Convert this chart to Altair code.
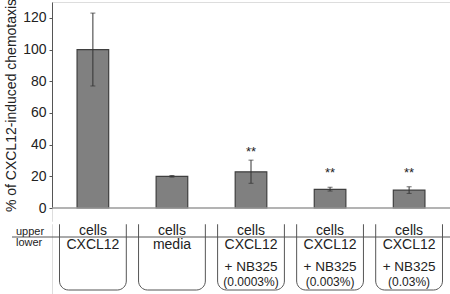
import altair as alt
import pandas as pd

# ---- data ----
conditions = ["CXCL12", "media", "CXCL12 + NB325 (0.0003%)",
              "CXCL12 + NB325 (0.003%)", "CXCL12 + NB325 (0.03%)"]
values = [100, 20, 22.8, 11.8, 11.3]
err_low = [77, 19.5, 15.6, 10.7, 9.2]
err_high = [123, 20.5, 30.2, 13.1, 13.4]
stars = ["", "", "**", "**", "**"]
star_pos = [0, 0, 36.5, 23.5, 23.5]
y_ticks = list(range(0, 131, 10))

# table below the chart
upper_row = ["cells", "cells", "cells", "cells", "cells"]
lower_line1 = ["CXCL12", "media", "CXCL12", "CXCL12", "CXCL12"]
lower_line2 = ["", "", "+ NB325", "+ NB325", "+ NB325"]
lower_line3 = ["", "", "(0.0003%)", "(0.003%)", "(0.03%)"]
row_names = ["upper", "lower"]

# layout helpers for the table area (table units, 0 = top of boxes)
row_pos = [7.5, 22, 43.5, 58.5]
row_font = [14, 14, 13.5, 12]
name_pos = [8.5, 20]
divider_pos = [14]
box_span = [0, 67]

W = 398          # plot width
H = 292          # whole view height (bars + table)
BAR_H = 206      # pixel height used by the bar chart
FONT = "Liberation Sans"

df = pd.DataFrame({
    "condition": conditions,
    "value": values,
    "lo": err_low,
    "hi": err_high,
    "stars": stars,
    "star_y": star_pos,
})

# ---- bar chart ----
bx = alt.X("condition:N", sort=conditions,
           scale=alt.Scale(paddingInner=0.6, paddingOuter=0.317), axis=None)
yscale = alt.Scale(domain=[0, 130], nice=False, zero=True, range=[BAR_H, 0])

bars = alt.Chart(df).mark_bar(color="#808080", stroke="#3f3f3f",
                              strokeWidth=1.2).encode(
    x=bx,
    y=alt.Y("value:Q", scale=yscale,
            axis=alt.Axis(values=y_ticks, labelOverlap=False,
                          labelExpr="datum.value % 20 == 0 ? datum.label : ''",
                          title="% of CXCL12-induced chemotaxis",
                          titleFontSize=14, titleFontWeight="normal",
                          titleColor="#222222", titlePadding=4,
                          labelFontSize=14, labelColor="#222222",
                          labelPadding=3, tickSize=3, tickColor="#555555",
                          domainColor="#555555", grid=False)),
)
baseline = alt.Chart(pd.DataFrame({"v": [0]})).mark_rule(
    color="#9a9a9a", strokeWidth=1.5).encode(
    x=alt.value(0), x2=alt.value(W), y=alt.Y("v:Q", scale=yscale))
err_rule = alt.Chart(df).mark_rule(color="#333333", strokeWidth=1).encode(
    x=bx, y=alt.Y("lo:Q", scale=yscale), y2="hi:Q")
cap_lo = alt.Chart(df).mark_tick(color="#333333", thickness=1, size=5).encode(
    x=bx, y=alt.Y("lo:Q", scale=yscale))
cap_hi = alt.Chart(df).mark_tick(color="#333333", thickness=1, size=5).encode(
    x=bx, y=alt.Y("hi:Q", scale=yscale))
star_txt = alt.Chart(df).transform_filter("datum.stars != ''").mark_text(
    fontSize=13, color="#222222", baseline="middle", dy=2).encode(
    x=bx, y=alt.Y("star_y:Q", scale=yscale), text="stars:N")

top = alt.layer(bars, baseline, err_rule, cap_lo, cap_hi, star_txt)

# ---- table ----
rows = []
for i, c in enumerate(conditions):
    for txt, pos, fs in zip([upper_row[i], lower_line1[i], lower_line2[i], lower_line3[i]],
                            row_pos, row_font):
        if txt:
            rows.append({"condition": c, "text": txt, "pos": pos, "fs": fs})
tdf = pd.DataFrame(rows)

tys = alt.Scale(domain=[0, 71], nice=False, zero=False, range=[BAR_H + 15, H])
tx = alt.X("condition:N", sort=conditions,
           scale=alt.Scale(paddingInner=0.155, paddingOuter=0.095), axis=None)

box_df = pd.DataFrame({"condition": conditions,
                       "top": [box_span[0]] * 5, "bottom": [box_span[1]] * 5})
boxes = alt.Chart(box_df).mark_rect(fillOpacity=0, stroke="#555555", strokeWidth=1,
                                    cornerRadiusBottomLeft=9,
                                    cornerRadiusBottomRight=9).encode(
    x=tx, y=alt.Y("top:Q", scale=tys, axis=None), y2="bottom:Q")
# open top of the boxes
cover = alt.Chart(pd.DataFrame({"pos": [box_span[0]]})).mark_rule(
    color="white", strokeWidth=2.5).encode(
    x=alt.value(0), x2=alt.value(W), y=alt.Y("pos:Q", scale=tys, axis=None))
cell_txt = alt.Chart(tdf).mark_text(color="#222222", baseline="middle").encode(
    x=tx, y=alt.Y("pos:Q", scale=tys, axis=None), text="text:N",
    size=alt.Size("fs:Q", scale=None, legend=None))
names = alt.Chart(pd.DataFrame({"name": row_names, "pos": name_pos})).mark_text(
    align="left", baseline="middle", fontSize=11, color="#222222").encode(
    x=alt.value(-36), y=alt.Y("pos:Q", scale=tys, axis=None), text="name:N")
divider = alt.Chart(pd.DataFrame({"pos": divider_pos})).mark_rule(
    color="#555555", strokeWidth=1).encode(
    x=alt.value(-40), x2=alt.value(W), y=alt.Y("pos:Q", scale=tys, axis=None))

table = alt.layer(boxes, cover, divider, cell_txt, names)

chart = alt.layer(top, table).resolve_scale(
    x="independent", y="independent"
).properties(
    width=W, height=H,
    autosize=alt.AutoSizeParams(type="none"),
    padding={"left": 52, "top": 2, "right": 0, "bottom": 0},
).configure_view(stroke=None).configure(font=FONT)

chart.save("out.html", embed_options={"renderer": "svg", "actions": False})
